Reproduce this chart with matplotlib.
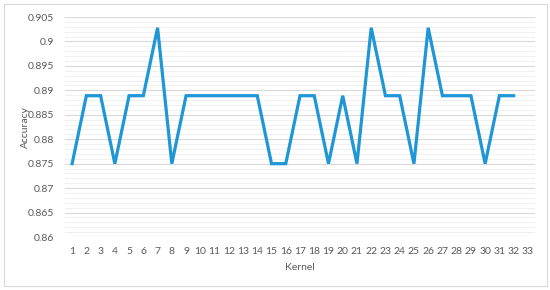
import matplotlib
matplotlib.use("Agg")
import matplotlib.pyplot as plt
from matplotlib.patches import Rectangle
import numpy as np

kernels = list(range(1, 34))
accuracy = [0.875, 0.8889, 0.8889, 0.875, 0.8889, 0.8889, 0.9028, 0.875, 0.8889, 0.8889,
            0.8889, 0.8889, 0.8889, 0.8889, 0.875, 0.875, 0.8889, 0.8889, 0.875, 0.8889,
            0.875, 0.9028, 0.8889, 0.8889, 0.875, 0.9028, 0.8889, 0.8889, 0.8889, 0.875,
            0.8889, 0.8889]
y_ticks = [0.86, 0.865, 0.87, 0.875, 0.88, 0.885, 0.89, 0.895, 0.9, 0.905]
y_labels = ["0.86", "0.865", "0.87", "0.875", "0.88", "0.885", "0.89", "0.895", "0.9", "0.905"]

plt.rcParams['font.family'] = ['Lato', 'DejaVu Sans']
txt = '#595959'

fig = plt.figure(figsize=(5.5, 2.9), dpi=100)
fig.patches.append(Rectangle((4/550, 4/290), 543/550, 282/290, transform=fig.transFigure,
                             fill=False, edgecolor='#d9d9d9', linewidth=0.8))
ax = fig.add_axes([65/550, 1 - 237/290, 470/550, 220/290])

# minor gridlines
for v in np.arange(0.86, 0.9051, 0.001):
    ax.axhline(v, color='#f0f0f0', linewidth=0.7, zorder=0)
for v in y_ticks:
    ax.axhline(v, color='#d9d9d9', linewidth=0.8, zorder=1)

x = np.arange(len(accuracy))
ax.plot(x, accuracy, color='#1f96d6', linewidth=2.3, solid_joinstyle='miter', zorder=3)

ax.set_xlim(-0.5, len(kernels) - 0.5)
ax.set_ylim(0.86, 0.905)
ax.set_xticks(np.arange(len(kernels)))
ax.set_xticklabels([str(k) for k in kernels], fontsize=7.5, color=txt)
ax.set_yticks(y_ticks)
ax.set_yticklabels(y_labels, fontsize=7.5, color=txt)
ax.tick_params(length=0, pad=7)
ax.tick_params(axis='y', pad=8)
for s in ax.spines.values():
    s.set_visible(False)
ax.set_xlabel("Kernel", fontsize=7.5, color=txt, labelpad=5)
ax.set_ylabel("Accuracy", fontsize=7.5, color=txt, va='center')
ax.yaxis.set_label_coords(-40/470, 0.5)

fig.savefig("out.png", dpi=100)
